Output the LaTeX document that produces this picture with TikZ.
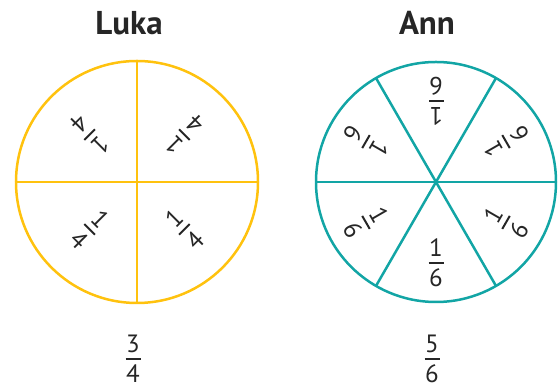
\documentclass[tikz,border=0pt]{standalone}
\usepackage{fontspec}
\setmainfont{PT Sans}
\usepackage{tikz}
\usetikzlibrary{positioning}
\definecolor{lukagold}{HTML}{FFC20E}
\definecolor{annteal}{HTML}{12A5A5}
\newcommand\frc[2]{\vbox{\offinterlineskip\halign{\hfil##\hfil\cr
  #1\cr\noalign{\kern5pt}\rule{0.6em}{2pt}\cr\noalign{\kern5pt}#2\cr}}}

\begin{document}
\begin{tikzpicture}[x=1pt,y=1pt,
  title/.style={font=\fontsize{33}{36}\selectfont\bfseries,text=black!85,inner sep=0pt},
  piece/.style={font=\fontsize{25}{30}\selectfont,text=black!85,inner sep=0pt},
  pie/.style={line width=2.5pt,line cap=butt}]
  \useasboundingbox (0,0) rectangle (558,390);
  \coordinate (L) at (137,208);
  \coordinate (A) at (436,208);
  % titles
  \node[title] (luka) at (129,367) {Luka};
  \node[title] (ann) at (427,367) {Ann};
  % Luka: quarters
  \draw[pie,lukagold] (L) circle (121);
  \draw[pie,lukagold] ([shift={(90:121)}]L) -- ([shift={(270:121)}]L);
  \draw[pie,lukagold] ([shift={(180:121)}]L) -- ([shift={(0:121)}]L);
  \foreach \a [count=\i] in {45,135,225,315}
    \node[piece,rotate=\a+90] (l\i) at ([shift={(\a:67)}]L) {\frc{1}{4}};
  % Ann: sixths
  \draw[pie,annteal] (A) circle (120);
  \foreach \a in {0,60,120}
    \draw[pie,annteal] ([shift={(\a:120)}]A) -- ([shift={({\a+180}:120)}]A);
  \foreach \a [count=\i] in {30,90,150,210,270,330}
    \node[piece,rotate=\a+90] (a\i) at ([shift={(\a:81)}]A) {\frc{1}{6}};
  % totals
  \node[piece] (lukatotal) at (133,31) {\frc{3}{4}};
  \node[piece] (anntotal) at (432,31) {\frc{5}{6}};
\end{tikzpicture}
\end{document}
